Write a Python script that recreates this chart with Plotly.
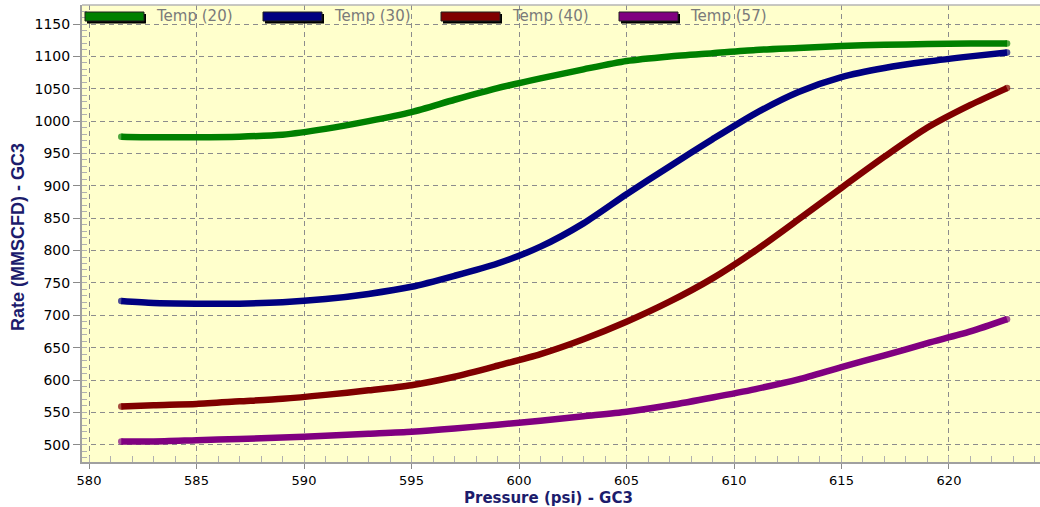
import plotly.graph_objects as go

# ---- data ----
pressure = [581.5, 583, 585, 587, 589, 591, 593, 595, 597, 599, 601, 603,
            605, 607, 609, 611, 613, 615, 617, 619, 621, 622.7]
temp20 = [976, 975, 975, 976, 979, 988, 1000, 1014, 1033, 1051, 1066, 1080,
          1093, 1100, 1105, 1110, 1113, 1116, 1118, 1119, 1120, 1120]
temp30 = [722, 719, 718, 718, 720, 725, 733, 744, 761, 780, 806, 842,
          887, 930, 972, 1012, 1045, 1068, 1082, 1092, 1100, 1106]
temp40 = [559, 561, 563, 567, 571, 577, 584, 592, 605, 622, 640, 663,
          690, 721, 757, 800, 848, 897, 945, 990, 1025, 1051]
temp57 = [505, 505, 507, 509, 511, 514, 517, 520, 525, 531, 537, 544,
          551, 561, 573, 586, 601, 620, 638, 657, 675, 694]

series_names = ["Temp (20)", "Temp (30)", "Temp (40)", "Temp (57)"]
series_values = [temp20, temp30, temp40, temp57]
series_colors = ["#008000", "#000080", "#800000", "#800080"]

x_tickvals = [580, 585, 590, 595, 600, 605, 610, 615, 620]
y_tickvals = [500, 550, 600, 650, 700, 750, 800, 850, 900, 950, 1000, 1050, 1100, 1150]

x_title = "Pressure (psi) - GC3"
y_title = "Rate (MMSCFD) - GC3"

# ---- layout geometry (pixels) ----
W, H = 1040, 507
L, R, T, B = 82, 0, 5, 45
PW, PH = W - L - R, H - T - B
X_RANGE = [579.674, 624.233]
Y_RANGE = [473.3, 1179.4]
BG = "#FFFFCC"
LINE_W = 6.5


def pxx(px):
    return (px - L) / PW


def pxy(py):
    return (H - B - py) / PH


fig = go.Figure()
for name, vals, col in zip(series_names, series_values, series_colors):
    n = len(vals)
    end_sizes = [LINE_W] + [0] * (n - 2) + [LINE_W]
    fig.add_trace(go.Scatter(
        x=pressure, y=vals, name=name, mode="lines+markers",
        line=dict(color=col, width=LINE_W, shape="spline", smoothing=0.7),
        marker=dict(color=col, size=end_sizes, line=dict(width=0)),
        showlegend=False,
    ))

shapes = []
annotations = []

# hide grid above 1150 and left of 580 (reference grid starts there)
shapes.append(dict(type="rect", xref="paper", yref="y", x0=0, x1=1,
                   y0=1150.8, y1=Y_RANGE[1], fillcolor=BG, line=dict(width=0),
                   layer="between"))
shapes.append(dict(type="rect", xref="x", yref="paper", x0=X_RANGE[0], x1=579.93,
                   y0=0, y1=1, fillcolor=BG, line=dict(width=0), layer="between"))
# top border
shapes.append(dict(type="line", xref="paper", yref="paper", x0=0, x1=1, y0=1, y1=1,
                   line=dict(color="#b4b4b4", width=1.5)))

# custom legend
for i, (name, col) in enumerate(zip(series_names, series_colors)):
    x0 = 85 + 178 * i
    x1 = x0 + 59
    shapes.append(dict(type="rect", xref="paper", yref="paper",
                       x0=pxx(x0 + 2), x1=pxx(x1 + 2), y0=pxy(14), y1=pxy(23.5),
                       fillcolor="#000000", line=dict(width=0), layer="above"))
    shapes.append(dict(type="rect", xref="paper", yref="paper",
                       x0=pxx(x0), x1=pxx(x1), y0=pxy(12), y1=pxy(21),
                       fillcolor=col, line=dict(color="#202020", width=1), layer="above"))
    annotations.append(dict(xref="paper", yref="paper", x=pxx(x0 + 69), y=pxy(16.5),
                            text=name, showarrow=False, xanchor="left", yanchor="middle",
                            font=dict(family="DejaVu Sans", size=15, color="#7a7a7a")))

# axis titles
annotations.append(dict(xref="paper", yref="paper", x=pxx(548), y=pxy(507.5),
                        text="<b>" + x_title + "</b>", showarrow=False,
                        xanchor="center", yanchor="bottom", borderpad=0,
                        font=dict(family="DejaVu Sans", size=15, color="#1c1c6c")))
annotations.append(dict(xref="paper", yref="paper", x=pxx(18), y=pxy(237),
                        text="<b>" + y_title + "</b>", showarrow=False, textangle=-90,
                        xanchor="center", yanchor="middle",
                        font=dict(family="Liberation Sans", size=18, color="#1c1c6c")))

axis_common = dict(
    showgrid=True, gridcolor="#8c8c8c", gridwidth=1, griddash="5px,4px",
    zeroline=False, showline=True, linecolor="#a0a0a0", linewidth=2,
    ticks="outside", ticklen=7, tickcolor="#8a8a8a", tickwidth=1,
    tickfont=dict(family="DejaVu Sans", size=14, color="#000000"),
)

fig.update_layout(
    width=W, height=H,
    margin=dict(l=L, r=R, t=T, b=B, pad=0),
    paper_bgcolor="#FFFFFF", plot_bgcolor=BG,
    xaxis=dict(range=X_RANGE, tickvals=x_tickvals, **axis_common,
               minor=dict(tick0=580, dtick=1, ticks="inside", ticklen=6,
                          tickcolor="#b0b0b0", showgrid=False)),
    yaxis=dict(range=Y_RANGE, tickvals=y_tickvals, **axis_common,
               minor=dict(tick0=500, dtick=10, ticks="inside", ticklen=5,
                          tickcolor="#b0b0b0", showgrid=False)),
    shapes=shapes, annotations=annotations, showlegend=False,
)
fig.update_xaxes(ticklen=5, tickfont=dict(size=13))

fig.write_html("out.html")
